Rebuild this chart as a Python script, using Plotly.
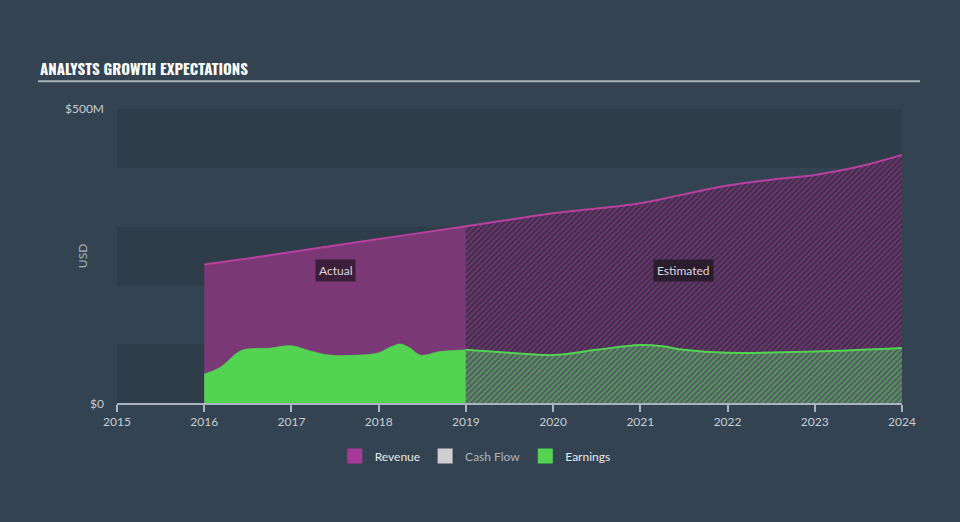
import plotly.graph_objects as go

# ---- data (USD millions) ----
rev_actual_x = [2016.0, 2016.5, 2017.0, 2017.5, 2018.0, 2018.5, 2019.0]
rev_actual_y = [236, 246, 257, 268, 279, 290, 301]
rev_est_x = [2019.0, 2019.5, 2020.0, 2020.5, 2021.0, 2021.5, 2022.0, 2022.5, 2023.0, 2023.5, 2024.0]
rev_est_y = [301, 312, 323, 331, 340, 355, 370, 380, 388, 402, 422]

earn_actual_x = [2016.0, 2016.18, 2016.41, 2016.55, 2016.76, 2017.0, 2017.22, 2017.45, 2017.75,
                 2018.0, 2018.14, 2018.25, 2018.36, 2018.48, 2018.7, 2019.0]
earn_actual_y = [50, 61, 89, 93, 94, 98, 89, 82, 82, 86, 96, 101, 94, 82, 88, 91]
earn_est_x = [2019.0, 2019.5, 2020.0, 2020.5, 2021.0, 2021.25, 2021.5, 2022.0, 2023.0, 2024.0]
earn_est_y = [91, 86, 82, 91, 99, 97, 91, 86, 88, 94]

y_tickvals = [0, 500]
y_ticktext = ["$0", "$500M"]
x_tickvals = [2015, 2016, 2017, 2018, 2019, 2020, 2021, 2022, 2023, 2024]

BG = "#334352"
BAND = "#2f3c4a"
REV_LINE = "#b8409f"
REV_FILL = "#7a3876"
GREEN = "#52d452"
FONT = "Lato, Inter, sans-serif"

fig = go.Figure()

fig.add_trace(go.Scatter(x=rev_actual_x, y=rev_actual_y, mode="lines", fill="tozeroy",
                         fillcolor=REV_FILL, line=dict(color=REV_LINE, width=2, shape="spline"),
                         showlegend=False, hoverinfo="skip"))
fig.add_trace(go.Scatter(x=rev_est_x, y=rev_est_y, mode="lines", fill="tozeroy",
                         fillcolor="#3c2e48",
                         fillpattern=dict(shape="/", bgcolor="#3c2e48", fgcolor="#a03d98",
                                          size=4, solidity=0.5),
                         line=dict(color=REV_LINE, width=2, shape="spline"),
                         showlegend=False, hoverinfo="skip"))
fig.add_trace(go.Scatter(x=earn_actual_x, y=earn_actual_y, mode="lines", fill="tozeroy",
                         fillcolor=GREEN, line=dict(color=GREEN, width=0.5, shape="spline"),
                         showlegend=False, hoverinfo="skip"))
fig.add_trace(go.Scatter(x=earn_est_x, y=earn_est_y, mode="lines", fill="tozeroy",
                         fillcolor="#565266",
                         fillpattern=dict(shape="/", bgcolor="#565266", fgcolor=GREEN,
                                          size=4, solidity=0.55),
                         line=dict(color=GREEN, width=2, shape="spline"),
                         showlegend=False, hoverinfo="skip"))

# legend-only entries
for name, col in [("Revenue", "#a8389a"), ("<span style='color:#aeb4bb'>Cash Flow</span>", "#cfcfcf"),
                  ("Earnings", GREEN)]:
    fig.add_trace(go.Scatter(x=[None], y=[None], mode="markers",
                             marker=dict(symbol="square", size=15, color=col),
                             name=name, showlegend=True))

shapes = []
for lo, hi in [(0, 100), (200, 300), (400, 500)]:
    shapes.append(dict(type="rect", xref="paper", yref="y", x0=0, x1=1, y0=lo, y1=hi,
                       fillcolor=BAND, line=dict(width=0), layer="below"))
# title underline
shapes.append(dict(type="line", xref="paper", yref="paper",
                   x0=(38 - 117) / 785, x1=(920 - 117) / 785,
                   y0=(406 - 81) / 297, y1=(406 - 81) / 297,
                   line=dict(color="#aab2ba", width=2)))

fig.update_layout(
    width=960, height=522,
    margin=dict(l=117, r=58, t=109, b=116),
    paper_bgcolor=BG, plot_bgcolor="rgba(0,0,0,0)",
    font=dict(family=FONT, color="#c8cdd3", size=12),
    shapes=shapes,
    showlegend=True,
    legend=dict(orientation="h", xref="container", yref="container", x=0.495, xanchor="center",
                y=1 - 456 / 522, yanchor="middle", font=dict(size=12, color="#e6e8ea"),
                itemwidth=30, bgcolor="rgba(0,0,0,0)"),
    xaxis=dict(range=[2015, 2024.0], tickvals=x_tickvals, ticktext=[str(v) for v in x_tickvals],
               showgrid=False, zeroline=False, showline=True, linecolor="#aab4c0", linewidth=1.5,
               ticks="outside", ticklen=7, tickcolor="#aab4c0", tickwidth=1.5,
               tickfont=dict(size=12, color="#c8cdd3")),
    yaxis=dict(range=[0, 500], tickvals=y_tickvals, ticktext=y_ticktext, showgrid=False,
               zeroline=False, showline=False, ticks="", ticklabelstandoff=12,
               tickfont=dict(size=12, color="#c8cdd3")),
    annotations=[
        dict(text="ANALYSTS GROWTH EXPECTATIONS", xref="paper", yref="paper",
             x=(38 - 117) / 785, y=(406 - 68) / 297, xanchor="left", yanchor="middle",
             showarrow=False,
             font=dict(family="Oswald, 'Liberation Sans Narrow', 'DejaVu Sans Condensed', sans-serif",
                       size=15, color="#ffffff", weight="bold")),
        dict(text="USD", xref="paper", yref="paper", x=(82 - 117) / 785, y=0.5,
             xanchor="center", yanchor="middle", textangle=-90, showarrow=False,
             font=dict(size=12, color="#aab2ba")),
        dict(text="Actual", x=2017.5, y=226, xref="x", yref="y", showarrow=False,
             bgcolor="#3c1e3a", font=dict(size=12, color="#ddd6dd"), borderpad=3),
        dict(text="Estimated", x=2021.5, y=226, xref="x", yref="y", showarrow=False,
             bgcolor="#2a1d2e", font=dict(size=12, color="#ddd6dd"), borderpad=3),
    ],
)

fig.write_html("out.html")
